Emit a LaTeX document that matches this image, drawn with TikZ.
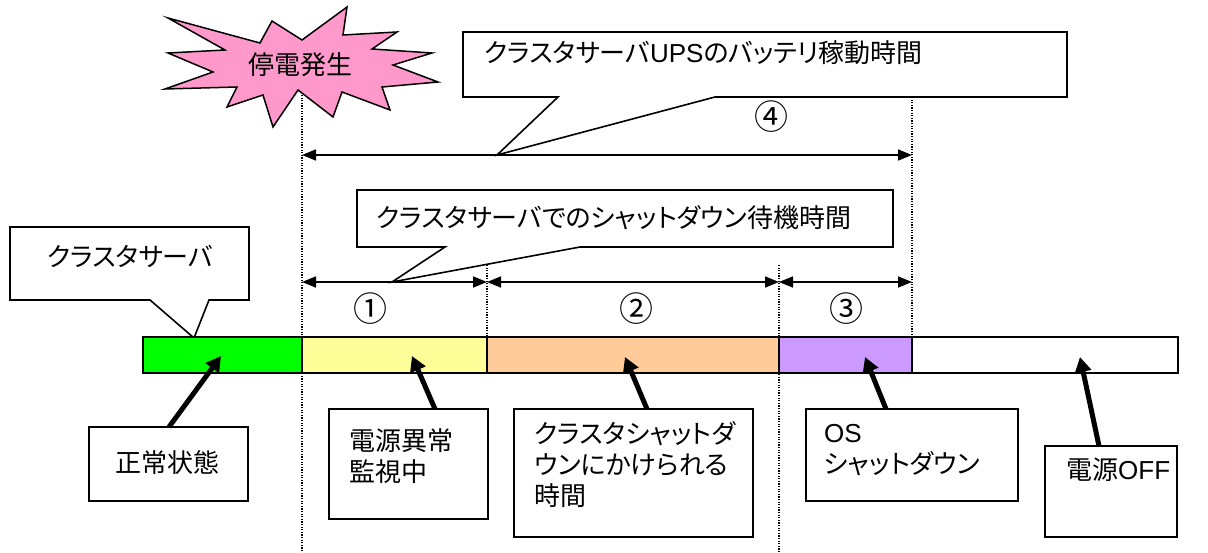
\documentclass[tikz,border=0pt]{standalone}
\usepackage{fontspec}
\setmainfont{Noto Sans CJK JP}[RawFeature={+palt}]
\newfontfamily\latf{Liberation Sans}
\usetikzlibrary{arrows.meta,calc}
\definecolor{cgreen}{RGB}{0,255,0}
\definecolor{cyellow}{RGB}{255,255,153}
\definecolor{corange}{RGB}{255,204,153}
\definecolor{cpurple}{RGB}{204,153,255}
\definecolor{cpink}{RGB}{255,153,204}
\begin{document}
\begin{tikzpicture}[x=1pt,y=-1pt,
  font=\fontsize{26}{31}\selectfont,
  seg/.style={draw=black, line width=1.3pt, inner sep=0pt, outer sep=0pt, minimum height=36pt, anchor=north west},
  callout/.style={draw=black, line width=1.6pt, fill=white, line join=miter},
  dimarrow/.style={line width=1.6pt, {Triangle[length=14pt,width=11pt]}-{Triangle[length=14pt,width=11pt]}},
  ptr/.style={line width=5pt, -{Triangle[length=15pt,width=16pt]}},
  vline/.style={line width=1.3pt, dash pattern=on 1.3pt off 1.3pt},
  lbox/.style={draw=black, line width=1.6pt, anchor=north west, inner sep=0pt, outer sep=0pt},
  txt/.style={inner sep=0pt, anchor=west},
  mtxt/.style={inner sep=0pt, anchor=north west, align=left},
  num/.style={inner sep=0pt, font=\fontsize{34}{34}\selectfont}
]
\useasboundingbox (0,0) rectangle (1208,553);

% dotted vertical guide lines
\coordinate (v1t) at (302,95);  \coordinate (v1b) at (302,553);
\coordinate (v2t) at (487,265); \coordinate (v2b) at (487,337);
\coordinate (v3t) at (779,265); \coordinate (v3b) at (779,553);
\coordinate (v4t) at (912,97);  \coordinate (v4b) at (912,337);
\draw[vline] (v1t) -- (v1b);
\draw[vline] (v2t) -- (v2b);
\draw[vline] (v3t) -- (v3b);
\draw[vline] (v4t) -- (v4b);

% starburst
\draw[fill=cpink, line width=1.5pt, line join=miter]
  (168,18) -- (260,43) -- (272,21) -- (302,40) -- (347,7) -- (343,35) -- (397,32)
  -- (372,49) -- (432,53) -- (393,65) -- (438,82) -- (382,87) -- (390,110)
  -- (342,92) -- (333,117) -- (298,90) -- (273,127) -- (263,95) -- (227,107)
  -- (237,87) -- (165,89) -- (213,72) -- (168,53) -- (225,50) -- cycle;
\node[inner sep=0pt] (burst) at (300,65) {停電発生};

% dimension arrows
\coordinate (a4l) at (302,155); \coordinate (a4r) at (912,155);
\draw[dimarrow] (a4l) -- (a4r);
\coordinate (a1l) at (302,282); \coordinate (a1r) at (487,282);
\coordinate (a2r) at (779,282); \coordinate (a3r) at (912,282);
\draw[dimarrow] (a1l) -- (a1r);
\draw[dimarrow] (a1r) -- (a2r);
\draw[dimarrow] (a2r) -- (a3r);
\node[num] (n4) at (771,117) {④};
\node[num] (n1) at (370,309) {①};
\node[num] (n2) at (636,309) {②};
\node[num] (n3) at (846,309) {③};

% callouts
\draw[callout] (463,32) -- (1067,32) -- (1067,97) -- (715,97) -- (497,155) -- (558,97) -- (463,97) -- cycle;
\node[txt] (c1) at (484,53) {クラスタサーバ{\latf UPS}のバッテリ稼動時間};
\draw[callout] (357,190) -- (893,190) -- (893,247) -- (580,247) -- (392,282) -- (445,247) -- (357,247) -- cycle;
\node[txt] (c2) at (376,218) {クラスタサーバでのシャットダウン待機時間};
\draw[callout] (10,227) -- (249,227) -- (249,300) -- (209,300) -- (194,338) -- (150,300) -- (10,300) -- cycle;
\node[txt] (c3) at (47,256) {クラスタサーバ};

% timeline bar
\node[seg, fill=cgreen,  minimum width=159pt] (sg) at (143,337) {};
\node[seg, fill=cyellow, minimum width=185pt] (sy) at (302,337) {};
\node[seg, fill=corange, minimum width=292pt] (so) at (487,337) {};
\node[seg, fill=cpurple, minimum width=133pt] (sp) at (779,337) {};
\node[seg, fill=white,   minimum width=266pt] (sw) at (912,337) {};

% label boxes
\node[lbox, minimum width=159pt, minimum height=74pt] (b1) at (89,427) {};
\node[txt] at (115,463) {正常状態};
\node[lbox, minimum width=159pt, minimum height=110pt] (b2) at (329,409) {};
\node[mtxt] at (349,428) {電源異常\\監視中};
\node[lbox, minimum width=239pt, minimum height=128pt] (b3) at (514,409) {};
\node[mtxt] at (534,421) {クラスタシャットダ\\ウンにかけられる\\時間};
\node[lbox, minimum width=212pt, minimum height=92pt] (b4) at (806,409) {};
\node[mtxt] at (824,424) {{\latf OS}\\シャットダウン};
\node[lbox, minimum width=132pt, minimum height=91pt] (b5) at (1045,446) {};
\node[txt] at (1066,470) {電源{\latf OFF}};

% pointer arrows
\coordinate (p1s) at (169,427); \coordinate (p1t) at (221,356);
\coordinate (p2s) at (435,409); \coordinate (p2t) at (412,356);
\coordinate (p3s) at (647,409); \coordinate (p3t) at (625,357);
\coordinate (p4s) at (886,409); \coordinate (p4t) at (865,357);
\coordinate (p5s) at (1099,446); \coordinate (p5t) at (1080,357);
\draw[ptr] (p1s) -- (p1t);
\draw[ptr] (p2s) -- (p2t);
\draw[ptr] (p3s) -- (p3t);
\draw[ptr] (p4s) -- (p4t);
\draw[ptr] (p5s) -- (p5t);
\end{tikzpicture}
\end{document}
